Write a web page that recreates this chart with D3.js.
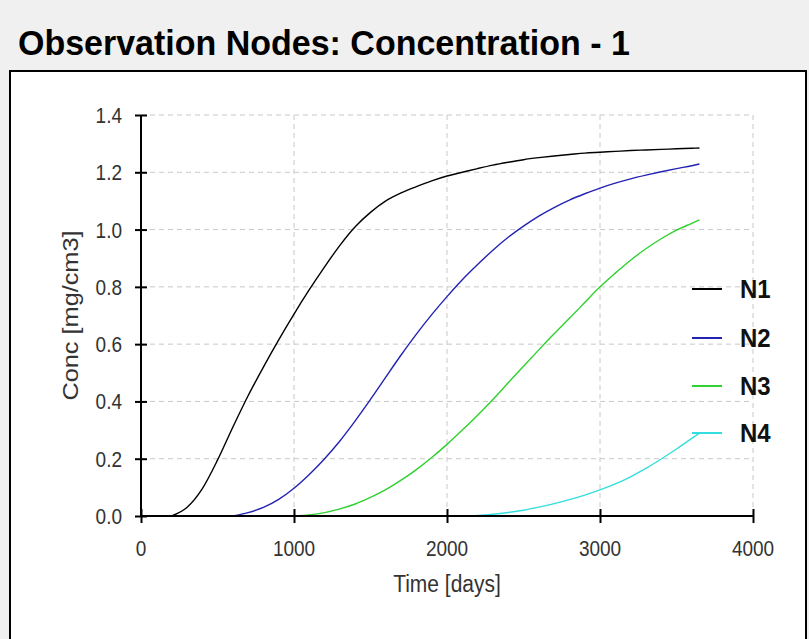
<!DOCTYPE html>
<html>
<head>
<meta charset="utf-8">
<script src="https://cdn.jsdelivr.net/npm/d3@7/dist/d3.min.js"></script>
<style>
  html, body { margin: 0; padding: 0; background: #f0f0f0; }
  svg { display: block; }
  text { font-family: "Liberation Sans", Arial, sans-serif; }
</style>
</head>
<body>
<svg id="chart" width="809" height="639"></svg>
<script>
// Observation times (days)
const timeDays = [0, 100, 200, 300, 400, 500, 600, 700, 800, 900, 1000, 1100, 1200, 1300,
  1400, 1500, 1600, 1700, 1800, 1900, 2000, 2100, 2200, 2300, 2400, 2500, 2600, 2700,
  2800, 2900, 3000, 3100, 3200, 3300, 3400, 3500, 3600, 3650];

// Concentration at each observation node [mg/cm3]; null = not yet reached
const concN1 = [null, null, 0.0, 0.03, 0.095, 0.195, 0.31, 0.42, 0.52, 0.615, 0.705, 0.79,
  0.87, 0.945, 1.01, 1.06, 1.10, 1.128, 1.15, 1.17, 1.187, 1.20, 1.213, 1.225, 1.235,
  1.244, 1.251, 1.257, 1.262, 1.267, 1.27, 1.273, 1.276, 1.278, 1.28, 1.282, 1.284, 1.285];
const concN2 = [null, null, null, null, null, null, 0.0, 0.012, 0.03, 0.058, 0.097, 0.145,
  0.2, 0.262, 0.332, 0.407, 0.485, 0.562, 0.635, 0.703, 0.766, 0.825, 0.878, 0.928, 0.973,
  1.012, 1.047, 1.077, 1.103, 1.125, 1.145, 1.162, 1.177, 1.19, 1.202, 1.213, 1.223, 1.229];
const concN3 = [null, null, null, null, null, null, null, null, null, null, 0.0, 0.004,
  0.012, 0.025, 0.042, 0.065, 0.092, 0.125, 0.162, 0.204, 0.25, 0.30, 0.352, 0.407, 0.465,
  0.523, 0.58, 0.636, 0.69, 0.745, 0.80, 0.848, 0.893, 0.933, 0.968, 0.998, 1.022, 1.034];
const concN4 = [null, null, null, null, null, null, null, null, null, null, null, null,
  null, null, null, null, null, null, null, null, null, 0.0, 0.002, 0.006, 0.012, 0.02,
  0.031, 0.043, 0.057, 0.073, 0.091, 0.112, 0.137, 0.166, 0.199, 0.234, 0.271, 0.289];

const seriesNames = ["N1", "N2", "N3", "N4"];
const seriesColors = ["#000000", "#2222b4", "#2ed12e", "#33dede"];
const seriesValues = [concN1, concN2, concN3, concN4];

const xTicks = [0, 1000, 2000, 3000, 4000];
const yTicks = [0, 0.2, 0.4, 0.6, 0.8, 1.0, 1.2, 1.4];

const svg = d3.select("#chart");

// Text placed at (px, py) with optional rotation and a non-uniform glyph scale
function label(parent, px, py, str, o) {
  const t = parent.append("text")
    .attr("transform", `translate(${px},${py}) rotate(${o.rotate || 0}) scale(${o.sx || 1},${o.sy || 1})`)
    .attr("font-size", o.size)
    .attr("font-weight", o.weight || "normal")
    .attr("text-anchor", o.anchor || "start")
    .attr("fill", o.fill || "#333")
    .text(str);
  if (o.dy) t.attr("dy", o.dy);
  return t;
}

// Window title
label(svg, 18, 55, "Observation Nodes: Concentration - 1",
  { size: 34, weight: "bold", fill: "#000", sy: 1.04 });

// White chart panel
svg.append("rect")
  .attr("x", 10).attr("y", 71).attr("width", 796).attr("height", 600)
  .attr("fill", "#fff").attr("stroke", "#000").attr("stroke-width", 2);

const x = d3.scaleLinear().domain([0, 4000]).range([141, 753]);
const y = d3.scaleLinear().domain([0, 1.4]).range([516, 115]);

// Dashed grid
const grid = svg.append("g").attr("stroke", "#c8c8c8").attr("stroke-width", 1)
  .attr("stroke-dasharray", "5,4");
grid.selectAll("line.h").data(yTicks.filter(d => d > 0)).join("line")
  .attr("class", "h")
  .attr("x1", x(0)).attr("x2", x(4000))
  .attr("y1", d => y(d)).attr("y2", d => y(d));
grid.selectAll("line.v").data(xTicks.filter(d => d > 0)).join("line")
  .attr("class", "v")
  .attr("x1", d => x(d)).attr("x2", d => x(d))
  .attr("y1", y(1.4)).attr("y2", y(0));

// Series curves
const rows = timeDays.map((t, i) => ({ t, i }));
seriesValues.forEach((vals, k) => {
  const line = d3.line()
    .defined(d => vals[d.i] !== null)
    .x(d => x(d.t))
    .y(d => y(vals[d.i]))
    .curve(d3.curveMonotoneX);
  svg.append("path")
    .datum(rows)
    .attr("fill", "none")
    .attr("stroke", seriesColors[k])
    .attr("stroke-width", 1.4)
    .attr("d", line);
});

// Axes with ticks crossing the axis line; labels drawn separately
const xAxis = svg.append("g").attr("transform", `translate(0,${y(0)})`)
  .call(d3.axisBottom(x).tickValues(xTicks).tickFormat("").tickSize(7));
xAxis.selectAll(".tick line").attr("y1", -7).attr("stroke-width", 2);
const yAxis = svg.append("g").attr("transform", `translate(${x(0)},0)`)
  .call(d3.axisLeft(y).tickValues(yTicks).tickFormat("").tickSize(6));
yAxis.selectAll(".tick line").attr("x1", 6).attr("stroke-width", 2);
[xAxis, yAxis].forEach(a => a.select(".domain").attr("stroke", "#000").attr("stroke-width", 2));
xAxis.select(".domain").attr("d", `M${x(0)},0H${x(4000)}`);
yAxis.select(".domain").attr("d", `M0,${y(0)}V${y(1.4)}`);

const fmtX = d3.format("d"), fmtY = d3.format(".1f");
xTicks.forEach(d => label(svg, x(d), y(0) + 40, fmtX(d),
  { size: 20, anchor: "middle", sx: 0.95, sy: 1.12 }));
yTicks.forEach(d => label(svg, x(0) - 19, y(d) + 8, fmtY(d),
  { size: 20, anchor: "end", sx: 0.95, sy: 1.12 }));

// Axis titles
label(svg, (x(0) + x(4000)) / 2, 592, "Time [days]",
  { size: 21, anchor: "middle", sy: 1.12 });
label(svg, 78, (y(0) + y(1.4)) / 2, "Conc [mg/cm3]",
  { size: 22, anchor: "middle", rotate: -90, sx: 1.15, sy: 1.02 });

// Legend
const legendY = [289, 338, 386, 433];
seriesNames.forEach((name, k) => {
  svg.append("line")
    .attr("x1", 692).attr("x2", 722)
    .attr("y1", legendY[k]).attr("y2", legendY[k])
    .attr("stroke", seriesColors[k]).attr("stroke-width", 2);
  label(svg, 740, legendY[k] + 9, name,
    { size: 24, weight: "bold", fill: "#111", sy: 1.1 });
});
</script>
</body>
</html>
